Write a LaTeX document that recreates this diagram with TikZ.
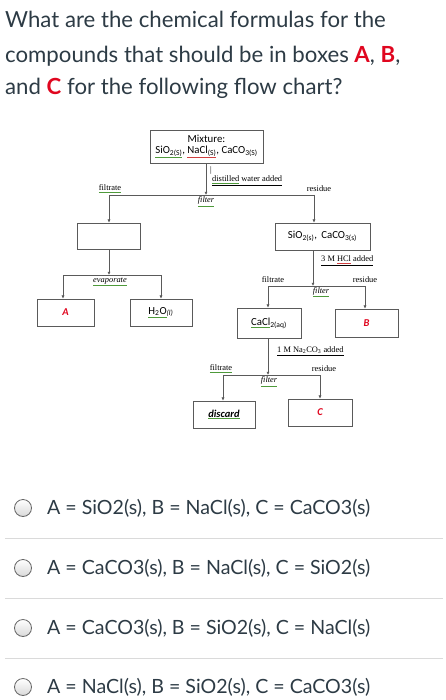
\documentclass[tikz,border=0pt]{standalone}
\usepackage{fontspec}
\setmainfont{Lato}
\newfontfamily\calib{Carlito}
\newfontfamily\tms{Liberation Serif}
\usetikzlibrary{arrows.meta}
\definecolor{ink}{HTML}{2D3B45}
\definecolor{qred}{HTML}{E0061F}
\definecolor{ugreen}{HTML}{4E9A3A}
\definecolor{ured}{HTML}{D04040}
\definecolor{boxgray}{HTML}{5A5A5A}
\definecolor{sepgray}{HTML}{DADADA}
\newcommand{\gu}[1]{{\color{ugreen}\underline{{\color{black}#1}}}}
\newcommand{\ru}[1]{{\color{ured}\underline{{\color{black}#1}}}}
\newcommand{\su}[1]{\textsubscript{#1}}
\tikzset{
  px/.style={x=1pt,y=-1pt},
  flowbox/.style={draw=boxgray,line width=0.8pt,inner sep=0pt,font=\calib\fontsize{10.8}{12}\selectfont,align=center},
  arr/.style={draw=boxgray,line width=0.7pt,-{Latex[length=3.2pt,width=3.2pt]}},
  ln/.style={draw=boxgray,line width=0.7pt},
  lbl/.style={font=\tms\fontsize{8.4}{9}\selectfont,inner sep=0pt},
  ilbl/.style={font=\tms\itshape\fontsize{8.4}{9}\selectfont,inner sep=0pt},
  title/.style={font=\fontsize{22.2}{26}\selectfont,text=ink,anchor=base west,inner sep=0pt},
  opt/.style={font=\fontsize{19.6}{23}\selectfont,text=ink,anchor=west,inner sep=0pt},
  radio/.style={circle,draw=gray!80!black,line width=0.8pt,top color=white,bottom color=gray!30,minimum size=17pt,inner sep=0pt},
  sep/.style={draw=sepgray,line width=0.9pt},
  letter/.style={text=qred,font=\calib\bfseries\itshape\fontsize{10.5}{11}\selectfont}
}
\begin{document}
\begin{tikzpicture}[px]
\fill[white] (0,0) rectangle (446,700);
\useasboundingbox (0,0) rectangle (446,700);
% title
\node[title] (t1) at (5,28) {What are the chemical formulas for the};
\node[title] (t2) at (5,63) {compounds that should be in boxes {\bfseries\color{qred}A}, {\bfseries\color{qred}B},};
\node[title] (t3) at (5,95) {and {\bfseries\color{qred}C} for the following flow chart?};
% boxes
\node[flowbox,minimum width=113pt,minimum height=33pt] (mix) at (206.5,146.5)
  {Mixture:\\[-1pt]\gu{SiO\su{2(S)}}, \ru{NaCl\su{(S)}}, CaCO\su{3(S)}};
\node[flowbox,minimum width=63pt,minimum height=26pt] (fb) at (108.5,236) {};
\node[flowbox,minimum width=95pt,minimum height=27pt] (sc) at (322.5,236.5)
  {SiO\su{2(s)},\, CaCO\su{3(s)}};
\node[flowbox,minimum width=57pt,minimum height=27pt,letter] (ba) at (65.5,312.5) {A};
\node[flowbox,minimum width=62pt,minimum height=27pt] (h2o) at (161,312.5) {\gu{H\su{2}O}\su{\itshape(l)}};
\node[flowbox,minimum width=64pt,minimum height=30pt] (cacl) at (269,323) {\gu{CaCl}\su{2(aq)}};
\node[flowbox,minimum width=63pt,minimum height=28pt,letter] (bb) at (366.5,323) {B};
\node[flowbox,minimum width=62pt,minimum height=27pt,font=\calib\bfseries\itshape\fontsize{10.5}{11}\selectfont] (disc) at (224,414.5) {\gu{discard}};
\node[flowbox,minimum width=64pt,minimum height=27pt,letter] (bc) at (320,412.5) {C};
% junction coordinates
\coordinate (j1) at (206,195);
\coordinate (j1l) at (109,195);
\coordinate (j1r) at (314,195);
\coordinate (j2) at (109,275);
\coordinate (j2l) at (63,275);
\coordinate (j2r) at (161,275);
\coordinate (j3) at (313,286);
\coordinate (j3l) at (268,286);
\coordinate (j3r) at (365,286);
\coordinate (j4) at (268,375);
\coordinate (j4l) at (223,375);
\coordinate (j4r) at (320,375);
% connectors
\draw[arr] (mix.south -| j1) -- (j1);
\draw[ln] (j1l) -- (j1r);
\draw[arr] (j1l) -- (j1l |- fb.north);
\draw[arr] (j1r) -- (j1r |- sc.north);
\draw[arr] (fb.south -| j2) -- (j2);
\draw[ln] (j2l) -- (j2r);
\draw[arr] (j2l) -- (j2l |- ba.north);
\draw[arr] (j2r) -- (j2r |- h2o.north);
\draw[arr] (sc.south -| j3) -- (j3);
\draw[ln] (j3l) -- (j3r);
\draw[arr] (j3l) -- (j3l |- cacl.north);
\draw[arr] (j3r) -- (j3r |- bb.north);
\draw[arr] (cacl.south -| j4) -- (j4);
\draw[ln] (j4l) -- (j4r);
\draw[arr] (j4l) -- (j4l |- disc.north);
\draw[arr] (j4r) -- (j4r |- bc.north);
% labels
\node[lbl] (cur) at (211,170) {|};
\node[lbl,anchor=west] (l1) at (212,181) {\underline{\gu{distilled} water added}};
\node[lbl] (l2) at (110,189) {\gu{filtrate}};
\node[lbl] (l3) at (319,189) {residue};
\node[ilbl] (l4) at (206,201.5) {\gu{filter}};
\node[ilbl] (l5) at (110,282) {\gu{evaporate}};
\node[lbl,anchor=west] (l6) at (321,261) {\underline{3 M \ru{HCl} added}};
\node[lbl] (l7) at (273,280) {filtrate};
\node[lbl] (l8) at (365,280) {residue};
\node[ilbl] (l9) at (321,292) {\gu{filter}};
\node[lbl,anchor=west] (l10) at (277,351) {\underline{1 M Na\su{2}CO\su{3} added}};
\node[lbl] (l11) at (221,369) {\gu{filtrate}};
\node[lbl] (l12) at (324,369) {residue};
\node[ilbl] (l13) at (269,381.5) {\gu{filter}};
% options
\node[radio] (r1) at (23,508) {};
\node[opt] (o1) at (47,508) {A = SiO2(s), B = NaCl(s), C = CaCO3(s)};
\node[radio] (r2) at (23,568) {};
\node[opt] (o2) at (47,568) {A = CaCO3(s), B = NaCl(s), C = SiO2(s)};
\node[radio] (r3) at (23,628) {};
\node[opt] (o3) at (47,628) {A = CaCO3(s), B = SiO2(s), C = NaCl(s)};
\node[radio] (r4) at (23,687) {};
\node[opt] (o4) at (47,687) {A = NaCl(s), B = SiO2(s), C = CaCO3(s)};
\draw[sep] (5,538) -- (443,538);
\draw[sep] (5,598) -- (443,598);
\draw[sep] (5,658) -- (443,658);
\end{tikzpicture}
\end{document}
